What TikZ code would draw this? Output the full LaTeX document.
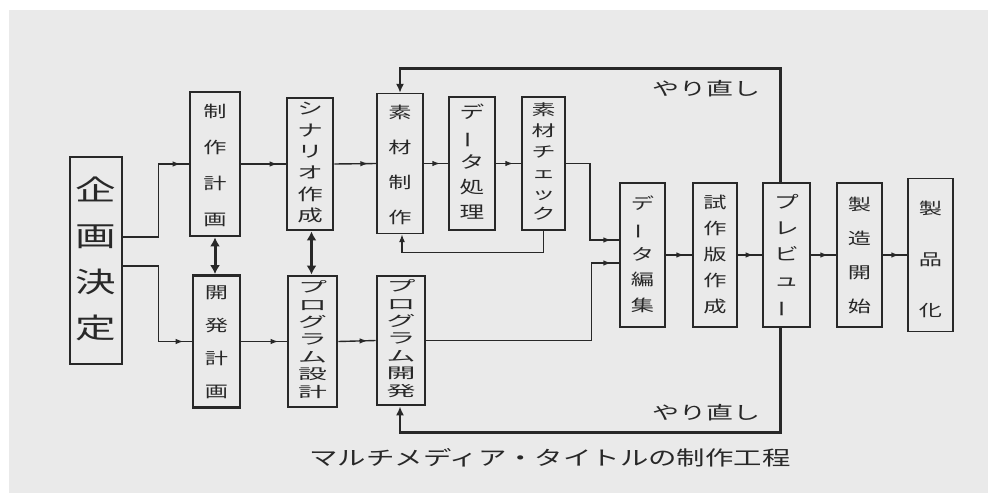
\documentclass[tikz,border=0pt]{standalone}
\usepackage{fontspec}
\setmainfont{Noto Sans CJK JP}
\usetikzlibrary{arrows.meta,decorations.markings,calc}
\definecolor{paper}{RGB}{234,234,234}
\definecolor{ink}{RGB}{40,40,40}
\newcommand\vcols[5]{\scalebox{#1}[#2]{\fontsize{#3}{#4}\selectfont\begin{tabular}{@{}c@{}}#5\end{tabular}}}
\newcommand\vcol[3]{\vcols{1.45}{1}{#1}{#2}{#3}}
\newcommand\vbar{\rotatebox[origin=c]{90}{ー}}
\newcommand\wide[1]{\scalebox{1.45}[1]{#1}}
\begin{document}
\begin{tikzpicture}[x=1pt,y=-1pt,
  thinbox/.style={draw=ink, line width=1.3pt, inner sep=0pt, text=ink, fill=paper},
  thickbox/.style={thinbox, line width=2.8pt},
  conn/.style={draw=ink, line width=1.4pt},
  arr/.style={conn, postaction={decorate}, decoration={markings,
     mark=at position -8pt with {\arrow{Latex[length=8pt,width=5.5pt]}}}},
  endarr/.style={conn, -{Latex[length=8pt,width=6pt]}},
  loopline/.style={draw=ink, line width=2.8pt},
  dbl/.style={draw=ink, line width=3pt, {Latex[length=9pt,width=10pt]}-{Latex[length=9pt,width=10pt]}},
  lbl/.style={text=ink, inner sep=0pt}
]
\useasboundingbox (0,0) rectangle (988,493);
\fill[white] (0,0) rectangle (988,493);
\fill[paper] (9,10) rectangle (988,493);

% nodes
\node[thinbox, minimum width=52pt, minimum height=207pt] (kikaku) at (96,260.5)
  {\vcol{28}{46}{企\\画\\決\\定}};
\node[thickbox, minimum width=50pt, minimum height=132pt] (seisaku) at (215,164)
  {\vcol{16}{36}{制\\作\\計\\画}};
\node[thickbox, minimum width=47pt, minimum height=131pt] (kaihatsu) at (216.5,341.5)
  {\vcol{16}{33}{開\\発\\計\\画}};
\node[thickbox, minimum width=46pt, minimum height=132pt] (scenario) at (310,164)
  {\vcols{1.5}{0.95}{17}{22.5}{シ\\ナ\\リ\\オ\\作\\成}};
\node[thickbox, minimum width=49pt, minimum height=131pt] (pdesign) at (312.5,341.5)
  {\vcols{1.7}{0.85}{17}{20.5}{プ\\ロ\\グ\\ラ\\ム\\設\\計}};
\node[thinbox, minimum width=46pt, minimum height=133pt] (sozai) at (400,163.5)
  {\vcol{16}{35}{素\\材\\制\\作}};
\node[thinbox, minimum width=46pt, minimum height=133pt] (data) at (472,163.5)
  {\vcol{17}{25}{デ\\\vbar\\タ\\処\\理}};
\node[thinbox, minimum width=43pt, minimum height=133pt] (check) at (543.5,163.5)
  {\vcols{1.5}{0.95}{16}{22}{素\\材\\チ\\ェ\\ッ\\ク}};
\node[thickbox, minimum width=48pt, minimum height=129pt] (pdev) at (401,340.5)
  {\vcols{1.7}{0.85}{17}{20.5}{プ\\ロ\\グ\\ラ\\ム\\開\\発}};
\node[thinbox, minimum width=45pt, minimum height=144pt] (henshu) at (642.5,255)
  {\vcol{16}{25.5}{デ\\\vbar\\タ\\編\\集}};
\node[thinbox, minimum width=44pt, minimum height=144pt] (shisaku) at (715,255)
  {\vcol{16}{26}{試\\作\\版\\作\\成}};
\node[thickbox, minimum width=47pt, minimum height=144pt] (preview) at (786.5,255)
  {\vcol{17}{26}{プ\\レ\\ビ\\ュ\\\vbar}};
\node[thinbox, minimum width=45pt, minimum height=144pt] (seizo) at (859.5,255)
  {\vcol{16}{34}{製\\造\\開\\始}};
\node[thinbox, minimum width=45pt, minimum height=144pt] (seihin) at (930.5,255)
  {\vcol{16}{51}{製\\品\\化}};

% connectors, planning stage
\draw[arr] ([yshift=23.5pt]kikaku.east) -- ++(36,0) |- (seisaku.west);
\draw[arr] ([yshift=-5.5pt]kikaku.east) -- ++(36,0) |- (kaihatsu.west);
\draw[arr] (seisaku.east) -- (scenario.west);
\draw[arr] (kaihatsu.east) -- (pdesign.west);
\draw[arr] (scenario.east) -- (sozai.west);
\draw[arr] (pdesign.east) -- (pdev.west);
\draw[dbl] (seisaku.south) -- (seisaku.south |- kaihatsu.north);
\draw[dbl] ([xshift=1.5pt]scenario.south) -- ([xshift=1.5pt]scenario.south |- pdesign.north);

% material production
\draw[arr] (sozai.east) -- (data.west);
\draw[arr] (data.east) -- (check.west);
\draw[endarr] (check.south) -- ++(0,22) -| ([xshift=2pt]sozai.south);
\draw[arr] (check.east) -- ++(24.5,0) |- ([yshift=15pt]henshu.west);
\draw[arr] (pdev.east) -- ++(165,0) |- ([yshift=-8pt]henshu.west);

% right row
\draw[arr] (henshu.east) -- (shisaku.west);
\draw[arr] (shisaku.east) -- (preview.west);
\draw[arr] (preview.east) -- (seizo.west);
\draw[arr] (seizo.east) -- (seihin.west);

% redo loops
\draw[loopline, -{Latex[length=9pt,width=8pt]}] ([xshift=-6pt]preview.north) -- ++(0,-113) -| ([xshift=0pt]sozai.north);
\draw[loopline, -{Latex[length=9pt,width=8pt]}] ([xshift=-6pt]preview.south) -- ++(0,104) -| ([xshift=-1pt]pdev.south);

\node[lbl, font=\fontsize{18}{20}\selectfont] (redo1) at (706,89) {\scalebox{1.5}[1]{やり直し}};
\node[lbl, font=\fontsize{18}{20}\selectfont] (redo2) at (706,413) {\scalebox{1.5}[1]{やり直し}};

\node[lbl, font=\fontsize{20}{22}\selectfont] (caption) at (550,458) {\scalebox{1.42}[1]{マルチメディア・タイトルの制作工程}};
\end{tikzpicture}
\end{document}
